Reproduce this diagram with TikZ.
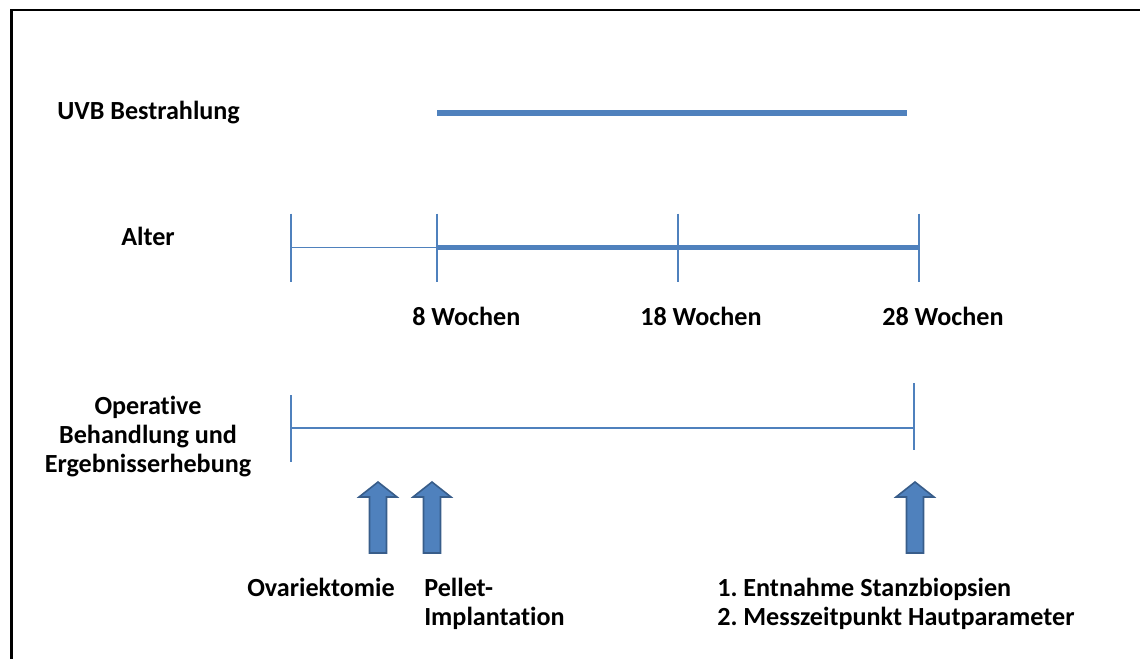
\documentclass[tikz,border=0pt]{standalone}
\usepackage{fontspec}
\setmainfont{Carlito}[Ligatures={NoCommon}]
\usetikzlibrary{calc}
\definecolor{lineblue}{HTML}{4F81BD}
\definecolor{arrowedge}{HTML}{385D8A}
\frenchspacing

\begin{document}
\begin{tikzpicture}[x=0.75pt, y=-0.75pt, font=\bfseries\fontsize{19.6}{21.75}\selectfont,
		lbl/.style={inner sep=0pt, anchor=base west},
		thin/.style={draw=lineblue, line width=1.2pt},
		thick/.style={draw=lineblue, line width=3.8pt},
		blockarrow/.style={draw=arrowedge, line width=1.2pt, fill=lineblue, line join=miter}]
	\useasboundingbox (0,0) rectangle (1140,658);
	\draw[line width=2pt] (11.5,660) -- (11.5,10) -- (1142,10);

	% Zeilenbeschriftungen
	\node[lbl] (UVB) at (57,119) {UVB Bestrahlung};
	\node[lbl] (AL) at (121,245) {Alter};
	\node[lbl, anchor=base, align=center] (OP) at (148,472) {Operative\\Behandlung und\\Ergebnisserhebung};

	% UVB
	\coordinate (U1) at (437,113);
	\coordinate (U2) at (907,113);
	\draw[thick, line width=4.2pt] (U1) -- (U2);

	% Alter
	\coordinate (T0) at (291,247.5);
	\coordinate (T1) at (437,247.5);
	\coordinate (T2) at (678,247.5);
	\coordinate (T3) at (919,247.5);
	\draw[thin] (T0) -- (T1);
	\draw[thick] (T1) -- (T3);
	\foreach \t in {T0,T1,T2,T3}
		\draw[thin] ($(\t)+(0,-34)$) -- ($(\t)+(0,34)$);
	\node[lbl] (W8) at (412,325) {8 Wochen};
	\node[lbl] (W18) at (640,325) {18 Wochen};
	\node[lbl] (W28) at (882,325) {28 Wochen};

	% Operative Behandlung
	\coordinate (O0) at (291,428);
	\coordinate (O1) at (914,428);
	\draw[thin] (O0) -- (O1);
	\draw[thin] (291,395) -- (291,462);
	\draw[thin] (914,383) -- (914,450);

	% Pfeile
	\coordinate (A1) at (378,553);
	\coordinate (A2) at (432,553);
	\coordinate (A3) at (915,553);
	\foreach \a in {A1,A2,A3}
		\draw[blockarrow] (\a) ++(-8.5,0) -- ++(0,-56) -- ++(-10.5,0) -- ++(19,-15) -- ++(19,15) -- ++(-10.5,0) -- ++(0,56) -- cycle;
	\node[lbl] (OV) at (247,596) {Ovariektomie};
	\node[lbl, align=left] (PI) at (424,625) {Pellet-\\Implantation};
	\node[lbl, align=left] (EN) at (717,625) {1. Entnahme Stanzbiopsien\\2. Messzeitpunkt Hautparameter};
\end{tikzpicture}
\end{document}
